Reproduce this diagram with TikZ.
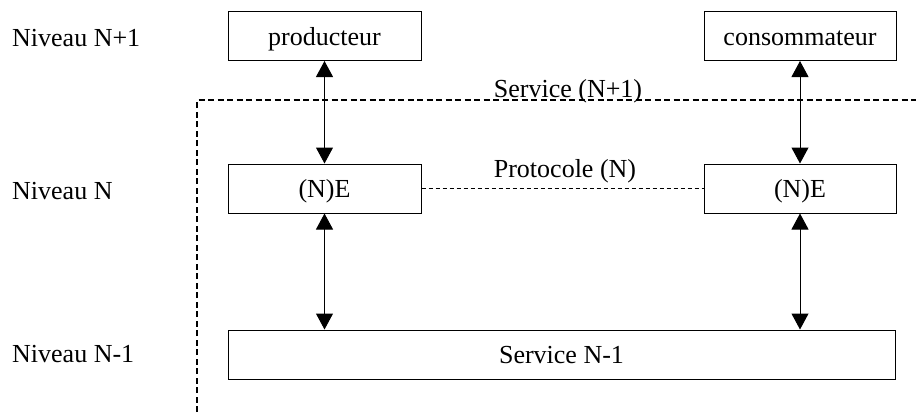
\documentclass[tikz,border=0pt]{standalone}
\usepackage{fontspec}
\setmainfont{Liberation Serif}
\usetikzlibrary{arrows.meta}
\begin{document}
\begin{tikzpicture}[x=1pt,y=-1pt,
  every node/.style={font=\fontsize{26}{31}\selectfont},
  boxn/.style={draw,line width=1pt,inner sep=0pt,minimum height=49pt,text height=18pt,text depth=0pt},
  lbl/.style={anchor=base west,inner sep=0pt},
  txt/.style={anchor=base,inner sep=0pt},
  link/.style={line width=1pt,{Triangle[width=17pt,length=16pt]}-{Triangle[width=17pt,length=16pt]}},
  svcline/.style={line width=1.3pt,dash pattern=on 6pt off 3.5pt},
  protline/.style={line width=1.1pt,dash pattern=on 4.5pt off 2.5pt}]
\useasboundingbox (0,0) rectangle (916,416);
% level labels
\node[lbl] (l1) at (12,46) {Niveau N+1};
\node[lbl] (l2) at (12,199) {Niveau N};
\node[lbl] (l3) at (12,362) {Niveau N-1};
% boxes
\node[boxn,minimum width=193pt] (prod) at (324.5,36) {producteur};
\node[boxn,minimum width=192pt] (cons) at (800,36) {consommateur};
\node[boxn,minimum width=193pt] (neL) at (324.5,188.5) {(N)E};
\node[boxn,minimum width=192pt] (neR) at (800,188.5) {(N)E};
\node[boxn,minimum width=667pt] (svc) at (561.5,354.5) {Service N-1};
% service boundary
\coordinate (b1) at (197,412);
\coordinate (b2) at (197,100);
\coordinate (b3) at (916,100);
\draw[svcline] (b1) -- (b2) -- (b3);
\node[txt] (servtxt) at (568,97) {Service (N+1)};
% protocol
\draw[protline] (neL.east) -- (neR.west);
\node[txt] (prottxt) at (565,177) {Protocole (N)};
% arrows
\draw[link] (prod.south) -- (neL.north);
\draw[link] (cons.south) -- (neR.north);
\draw[link] (neL.south) -- (neL.south |- svc.north);
\draw[link] (neR.south) -- (neR.south |- svc.north);
\end{tikzpicture}
\end{document}
